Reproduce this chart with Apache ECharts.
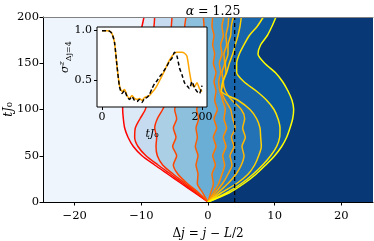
<!DOCTYPE html>
<html><head><meta charset="utf-8">
<script src="https://cdn.jsdelivr.net/npm/echarts@6/dist/echarts.min.js"></script>
<style>html,body{margin:0;padding:0;background:#fff}#c{width:374px;height:241px}</style>
</head><body><div id="c"></div>
<script>
// time grid (tJ0) shared by all contour lines
const times = [0,10,20,30,40,50,60,70,80,90,100,110,120,130,140,150,160,170,180,190,200];
// contour lines: Δj position at each time (red -> yellow)
const line1  = [0,-2.0,-4.0,-6.0,-8.0,-9.9,-11.2,-12.0,-12.5,-12.7,-12.8,-12.8,-12.7,-12.5,-12.2,-11.8,-11.3,-10.8,-10.3,-9.9,-9.6];
const line2  = [0,-1.8,-3.7,-5.6,-7.5,-9.3,-10.5,-11.0,-10.9,-10.2,-9.4,-9.1,-8.9,-8.8,-8.7,-8.6,-8.5,-8.4,-8.3,-8.1,-8.0];
const line3  = [0,-1.6,-3.4,-5.2,-6.8,-7.6,-7.8,-7.7,-8.0,-7.6,-6.8,-6.2,-6.0,-5.9,-5.8,-5.7,-5.7,-5.6,-5.6,-5.5,-5.4];
const line4  = [0,-1.4,-3.1,-4.5,-5.2,-4.7,-5.3,-4.8,-5.2,-4.7,-5.0,-4.6,-4.4,-4.2,-4.0,-3.9,-3.8,-3.7,-3.6,-3.5,-3.3];
const line5  = [0,-0.8,-1.6,-1.5,-1.8,-1.5,-1.9,-1.6,-1.8,-1.4,-1.7,-1.3,-1.4,-1.1,-1.3,-1.0,-1.1,-0.8,-0.9,-0.6,-0.7];
const line6  = [0,0.4,0.8,0.6,1.1,0.7,1.2,0.8,1.3,0.9,1.4,1.0,1.2,0.9,1.2,0.8,1.0,0.7,0.9,0.6,0.7];
const line7  = [0,0.8,1.6,2.1,2.5,2.2,2.7,2.3,2.8,2.4,2.6,2.2,1.8,1.6,1.9,1.7,2.1,1.9,2.3,2.1,2.4];
const line8  = [0,1.1,2.2,3.0,3.6,3.3,3.9,3.5,4.1,3.7,3.4,2.6,2.0,2.3,2.1,2.5,2.4,2.8,2.7,3.0,3.1];
const line9  = [0,1.5,3.0,4.2,5.0,5.4,5.1,5.6,5.2,5.5,5.0,3.6,2.6,2.3,2.7,2.6,3.0,3.0,3.4,3.5,3.8];
const line10 = [0,2.0,4.3,6.0,7.0,7.6,8.0,7.9,7.8,7.3,6.3,4.5,2.0,2.2,2.8,3.2,3.7,4.1,4.5,4.8,5.0];
const line11 = [0,2.8,5.0,6.75,8.2,9.4,10.3,10.75,10.8,10.5,9.9,8.8,7.25,5.4,4.3,4.3,4.7,5.4,6.2,7.4,8.3];
const line12 = [0,3.2,5.4,7.2,8.65,10.0,11.05,11.8,12.3,12.7,12.85,12.6,12.0,11.2,10.1,8.5,7.5,7.9,8.9,9.6,10.2];
const contourLines = [line1,line2,line3,line4,line5,line6,line7,line8,line9,line10,line11,line12];
const lineColors = ['#ff0000','#ff1700','#ff2e00','#ff4600','#ff5d00','#ff7400','#ff8b00','#ffa200','#ffb900','#ffd100','#ffe800','#ffff00'];
// filled band colour to the right of each contour line
const bandColors = ['#dbe9f6','#c6dbef','#abcfe5','#8cc0dd','#6aaed6','#559fcd','#4190c5','#3080bd','#2272b5','#1764ab','#0b589f','#093877'];
const dashedX = 4;
const xTicks = [-20,-10,0,10,20];
// inset
const insetT = [0,5,10,15,20,25,30,35,40,45,50,55,60,65,70,75,80,85,90,95,100,105,110,115,120,125,130,135,140,145,150,155,160,165,170,175,180,185,190,195,200];
const insetBlack  = [1.0,1.0,1.0,0.995,0.97,0.88,0.64,0.43,0.36,0.39,0.33,0.30,0.33,0.29,0.28,0.30,0.27,0.31,0.32,0.35,0.41,0.46,0.49,0.53,0.56,0.60,0.64,0.69,0.72,0.78,0.74,0.62,0.55,0.47,0.44,0.41,0.48,0.42,0.38,0.36,0.44];
const insetOrange = [1.0,1.0,1.0,0.995,0.97,0.88,0.64,0.44,0.38,0.40,0.34,0.31,0.34,0.31,0.30,0.31,0.29,0.32,0.33,0.34,0.37,0.40,0.44,0.49,0.54,0.59,0.65,0.70,0.74,0.77,0.78,0.78,0.78,0.77,0.74,0.58,0.45,0.43,0.47,0.41,0.38];
const insetXTicks = [0,200];
const insetYTicks = [0.5,1.0];

const XMIN=-24.75, XMAX=24.75;
const FONT = 'DejaVu Serif';
const minus = v => (v<0 ? '\u2212'+(-v) : String(v));

const series = [];
series.push({
  type:'custom', xAxisIndex:0, yAxisIndex:0, z:1, silent:true,
  data: bandColors.map((c,i)=>[i,0]),
  renderItem: function(params, api){
    const i = params.dataIndex;
    const xs = contourLines[i];
    const pts = times.map((t,k)=>api.coord([xs[k], t]));
    pts.push(api.coord([XMAX, times[times.length-1]]));
    pts.push(api.coord([XMAX, times[0]]));
    return {type:'polygon', shape:{points:pts}, style:{fill:bandColors[i], stroke:null}};
  }
});
contourLines.forEach((xs,i)=>{
  series.push({type:'line', xAxisIndex:0, yAxisIndex:0, z:3, silent:true, showSymbol:false, smooth:0.25,
    data: times.map((t,k)=>[xs[k],t]),
    lineStyle:{color:lineColors[i], width:1.5}});
});
series.push({type:'line', xAxisIndex:0, yAxisIndex:0, z:4, silent:true, showSymbol:false,
  data:[[dashedX,times[0]],[dashedX,times[times.length-1]]],
  lineStyle:{color:'#000', width:1.3, type:[4,3]}});
series.push({type:'line', xAxisIndex:2, yAxisIndex:1, z:11, silent:true, showSymbol:false, smooth:0.2,
  data: insetT.map((t,k)=>[t,insetOrange[k]]), lineStyle:{color:'#ffa500', width:1.5}});
series.push({type:'line', xAxisIndex:2, yAxisIndex:1, z:12, silent:true, showSymbol:false, smooth:0.2,
  data: insetT.map((t,k)=>[t,insetBlack[k]]), lineStyle:{color:'#000', width:1.5, type:[4,2.5]}});

const R = (size, italic) => ({fontFamily:FONT, fontSize:size, fontStyle:italic?'italic':'normal', fontWeight:'normal', color:'#000'});

const chart = echarts.init(document.getElementById('c'), null, {renderer:'canvas'});
chart.setOption({
  animation:false,
  backgroundColor:'#fff',
  textStyle:{fontFamily:FONT},
  title:{text:'{i|α}{r| = 1.25}', left:208, top:0, textAlign:'center',
    textStyle:{fontWeight:'normal', rich:{i:R(12.5,true), r:R(12.5,false)}}},
  grid:[
    {left:43, right:1, top:17, bottom:39, show:true, backgroundColor:'#eef5fc', borderWidth:0, containLabel:false, outerBoundsMode:'none'},
    {left:97, top:27, width:110, height:80, show:true, backgroundColor:'#fff', borderColor:'#000', borderWidth:1, z:10, containLabel:false, outerBoundsMode:'none'}
  ],
  xAxis:[
    {type:'value', gridIndex:0, min:XMIN, max:XMAX, z:6,
     axisLine:{onZero:false, lineStyle:{color:'#000',width:1}}, splitLine:{show:false},
     axisTick:{length:3.5, customValues:xTicks, lineStyle:{color:'#000'}},
     axisLabel:{customValues:xTicks, formatter:v=>minus(v), fontFamily:FONT, fontSize:11.5, color:'#000', margin:8},
     name:'{r|Δ}{i|j}{r| = }{i|j}{r| − }{i|L}{r|/2}', nameLocation:'middle', nameGap:26,
     nameTextStyle:{rich:{r:R(12,false), i:R(12,true)}}},
    {type:'value', gridIndex:0, position:'top', min:XMIN, max:XMAX, z:6,
     axisLine:{onZero:false, lineStyle:{color:'#808080',width:1.2}}, axisTick:{show:false}, axisLabel:{show:false}, splitLine:{show:false}},
    {type:'value', gridIndex:1, min:-10, max:210, z:13,
     axisLine:{show:false, onZero:false}, splitLine:{show:false},
     axisTick:{length:3, customValues:insetXTicks, lineStyle:{color:'#000'}},
     axisLabel:{customValues:insetXTicks, fontFamily:FONT, fontSize:11, color:'#000', margin:5},
     name:'{i|tJ}{n|₀}', nameLocation:'middle', nameGap:22, nameMoveOverlap:false,
     nameTextStyle:{rich:{i:R(11,true), n:R(11,false)}}}
  ],
  yAxis:[
    {type:'value', gridIndex:0, min:0, max:200, interval:50, z:6,
     axisLine:{show:true, onZero:false, lineStyle:{color:'#000',width:1}}, splitLine:{show:false},
     axisTick:{show:true, length:3.5, lineStyle:{color:'#000'}},
     axisLabel:{fontFamily:FONT, fontSize:11.5, color:'#000', margin:4},
     name:'{i|tJ}{n|₀}', nameLocation:'middle', nameGap:28, nameRotate:90, nameMoveOverlap:false,
     nameTextStyle:{rich:{i:R(12,true), n:R(12,false)}}},
    {type:'value', gridIndex:1, min:0.223, max:1.037, z:13,
     axisLine:{show:false, onZero:false}, splitLine:{show:false},
     axisTick:{length:3, customValues:insetYTicks, lineStyle:{color:'#000'}},
     axisLabel:{customValues:insetYTicks, formatter:v=>v.toFixed(1), fontFamily:FONT, fontSize:11, color:'#000', margin:5},
     name:'{i|σ}{sup|z}{sub|Δj=4}', nameLocation:'middle', nameGap:24, nameRotate:90, nameMoveOverlap:false,
     nameTextStyle:{padding:[0,0,0,20], rich:{i:R(11,true),
       sup:Object.assign(R(8,true),{padding:[0,0,7,0]}),
       sub:Object.assign(R(8,false),{padding:[6,0,0,0]})}}}
  ],
  series: series
});
</script></body></html>
